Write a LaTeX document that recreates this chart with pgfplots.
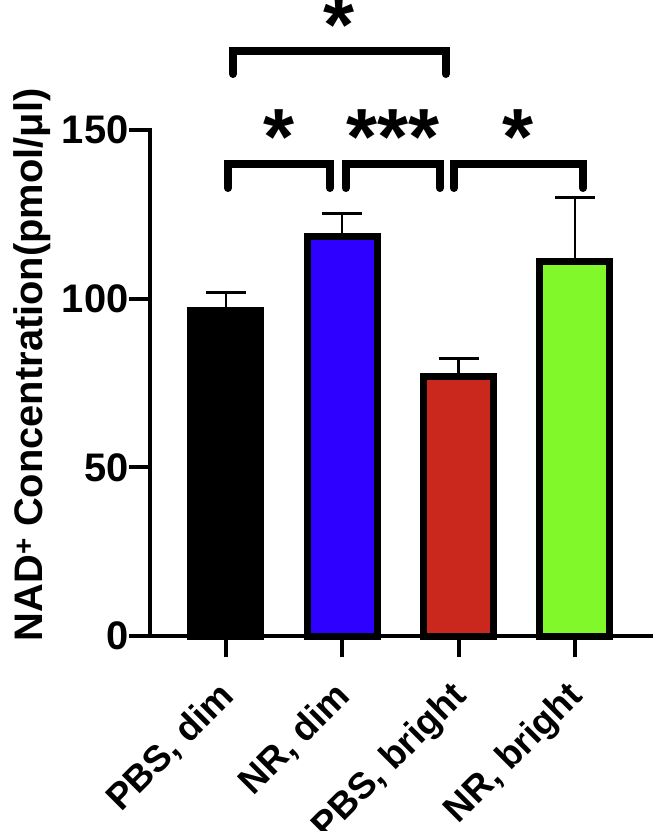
\documentclass[border=0pt]{standalone}
\usepackage{fontspec}
\setmainfont{Liberation Sans}
\usepackage{pgfplots}
\pgfplotsset{compat=1.18}
\definecolor{cBlue}{RGB}{45,0,255}
\definecolor{cRed}{RGB}{202,40,28}
\definecolor{cGreen}{RGB}{128,248,42}
\begin{document}
\begin{tikzpicture}
\begin{axis}[
  name=ax,
  scale only axis,
  width=503bp, height=506bp,
  xmin=-0.653, xmax=3.672,
  ymin=0, ymax=150,
  axis x line=bottom, axis y line=left,
  axis line style={-, line width=4bp, line cap=rect},
  clip=false,
  ytick={0,50,100,150},
  xtick={0,1,2,3},
  xticklabels={{PBS, dim},{NR, dim},{PBS, bright},{NR, bright}},
  tick align=outside,
  major tick length=21bp,
  every tick/.style={black, line width=4bp},
  tick label style={font=\fontsize{40}{48}\bfseries\selectfont},
  /pgf/number format/assume math mode=true,
  yticklabel style={xshift=3bp},
  xticklabel style={font=\fontsize{37}{44}\bfseries\selectfont, rotate=45, anchor=north east, inner sep=0pt, xshift=-22bp, yshift=-9bp},
  ylabel={NAD\textsuperscript{+} Concentration(pmol/μl)},
  ylabel style={font=\fontsize{40}{48}\bfseries\selectfont, at={(ticklabel cs:0.536,4bp)}, anchor=south},
  every axis plot/.append style={ybar, bar width=70bp, draw=black, line width=7bp, bar shift=0pt,
    /pgfplots/error bars/y dir=plus, /pgfplots/error bars/y explicit,
    /pgfplots/error bars/error bar style={line width=2.5bp, black},
    /pgfplots/error bars/error mark options={line width=3bp, mark size=20bp, rotate=90, black}},
]
\addplot[fill=black] coordinates {(0,96.5) +- (0,5.2)};
\addplot[fill=cBlue] coordinates {(1,118.3) +- (0,6.8)};
\addplot[fill=cRed] coordinates {(2,76.8) +- (0,5.6)};
\addplot[fill=cGreen] coordinates {(3,110.9) +- (0,19.0)};
% significance brackets
\draw[line width=8bp, line cap=round, line join=miter]
  (axis cs:0.06,166.6) -- (axis cs:0.06,173.4) -- (axis cs:1.89,173.4) -- (axis cs:1.89,166.6);
\draw[line width=8bp, line cap=round, line join=miter]
  (axis cs:0.017,132.8) -- (axis cs:0.017,139.9) -- (axis cs:0.894,139.9) -- (axis cs:0.894,132.8);
\draw[line width=8bp, line cap=round, line join=miter]
  (axis cs:1.03,132.8) -- (axis cs:1.03,139.9) -- (axis cs:1.84,139.9) -- (axis cs:1.84,132.8);
\draw[line width=8bp, line cap=round, line join=miter]
  (axis cs:1.96,132.8) -- (axis cs:1.96,139.9) -- (axis cs:3.07,139.9) -- (axis cs:3.07,132.8);
\tikzset{star/.style={font=\fontsize{80}{80}\bfseries\selectfont, inner sep=0pt, yshift=-9bp}}
\node[star] at (axis cs:0.97,183.9) {*};
\node[star] at (axis cs:0.46,150.6) {*};
\node[star] at (axis cs:1.44,150.6) {***};
\node[star] at (axis cs:2.51,150.6) {*};
\end{axis}
\pgfresetboundingbox
\path[use as bounding box] ([xshift=-150bp,yshift=-195bp]ax.south west) rectangle ([yshift=130bp]ax.north east);
\end{tikzpicture}
\end{document}
